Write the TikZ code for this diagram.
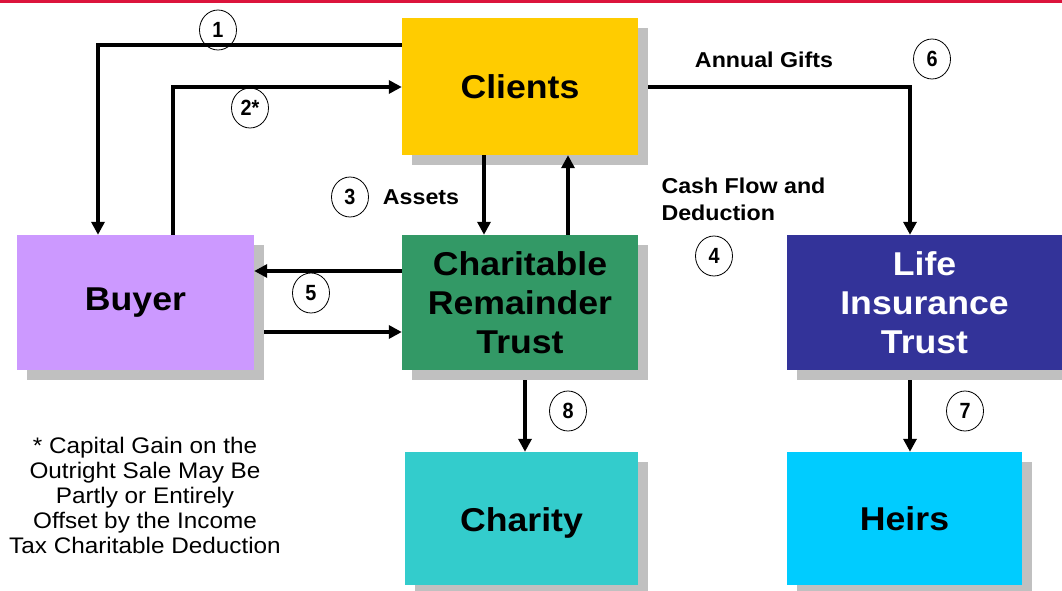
\documentclass[tikz,border=0pt]{standalone}
\usepackage{fontspec}
\setmainfont[FakeStretch=1.08]{Liberation Sans}
\newfontfamily\numfont[FakeStretch=0.9]{Liberation Sans}
\usetikzlibrary{arrows.meta,shadows,shapes.geometric}
\definecolor{redC}{HTML}{DC143C}
\definecolor{clientsC}{HTML}{FFCC00}
\definecolor{buyerC}{HTML}{CC99FF}
\definecolor{crtC}{HTML}{339966}
\definecolor{litC}{HTML}{333399}
\definecolor{charityC}{HTML}{33CCCC}
\definecolor{heirsC}{HTML}{00CCFF}
\definecolor{shadowC}{HTML}{C0C0C0}
\begin{document}
\begin{tikzpicture}[x=1pt,y=-1pt,
  box/.style={rectangle, inner sep=0pt, align=center,
    font=\fontsize{33}{39}\selectfont\bfseries,
    drop shadow={shadow xshift=10pt, shadow yshift=-10pt, fill=shadowC, opacity=1}},
  arr/.style={line width=3.3pt, -{Triangle[width=13pt,length=13pt]}},
  num/.style={ellipse, draw, line width=0.8pt, minimum width=37pt, minimum height=40pt,
    inner sep=0pt, font=\numfont\fontsize{22}{22}\selectfont\bfseries},
  lbl/.style={font=\fontsize{21.5}{27}\selectfont\bfseries, align=left},
  note/.style={font=\fontsize{22.5}{25}\selectfont, align=center}]
\useasboundingbox (0,0) rectangle (1062,591);
\fill[redC] (0,0) rectangle (1062,3);

\node[box, fill=clientsC, minimum width=236pt, minimum height=137pt] (clients) at (520,86.5) {Clients};
\node[box, fill=buyerC, minimum width=237pt, minimum height=135pt] (buyer) at (135.5,302.5) {Buyer};
\node[box, fill=crtC, minimum width=236pt, minimum height=135pt] (crt) at (520,302.5) {Charitable\\Remainder\\Trust};
\node[box, fill=litC, text=white, minimum width=275pt, minimum height=135pt] (lit) at (924.5,302.5) {Life\\Insurance\\Trust};
\node[box, fill=charityC, minimum width=233pt, minimum height=133pt, text height=25pt, text depth=0pt] (charity) at (521.5,518.5) {Charity};
\node[box, fill=heirsC, minimum width=235pt, minimum height=133pt] (heirs) at (904.5,518.5) {Heirs};

\coordinate (csh) at ([xshift=10pt]clients.east);
\coordinate (bsh) at ([xshift=10pt]buyer.east);
\coordinate (crtsh) at ([yshift=-10pt]crt.south);
\coordinate (litsh) at ([yshift=-10pt]lit.south);

\draw[arr] (clients.west |- 0,45) -| (buyer.north -| 98,0);
\draw[arr] (buyer.north -| 173,0) |- (clients.west |- 0,87);
\draw[arr] (clients.south -| 484,0) -- (crt.north -| 484,0);
\draw[arr] (crt.north -| 568,0) -- (clients.south -| 568,0);
\draw[arr] (crt.west |- 0,271) -- (buyer.east |- 0,271);
\draw[arr] (bsh |- 0,332) -- (crt.west |- 0,332);
\draw[arr] (csh |- 0,87) -| (lit.north -| 910,0);
\draw[arr] (crtsh -| 525,0) -- (charity.north -| 525,0);
\draw[arr] (litsh -| 910,0) -- (heirs.north -| 910,0);

\node[num] (n1) at (218,30) {1};
\node[num] (n2) at (250,108) {2*};
\node[num] (n3) at (350,197) {3};
\node[num] (n4) at (714,256) {4};
\node[num] (n5) at (311,293) {5};
\node[num] (n6) at (932,59) {6};
\node[num] (n7) at (965,411) {7};
\node[num] (n8) at (568,411) {8};

\node[lbl] (gifts) at (764,60) {Annual Gifts};
\node[lbl] (assets) at (421,197) {Assets};
\node[lbl, anchor=west] (cash) at (658,199.5) {Cash Flow and\\Deduction};
\node[note] (fn) at (145,495) {* Capital Gain on the\\Outright Sale May Be\\Partly or Entirely\\Offset by the Income\\Tax Charitable Deduction};
\end{tikzpicture}
\end{document}
